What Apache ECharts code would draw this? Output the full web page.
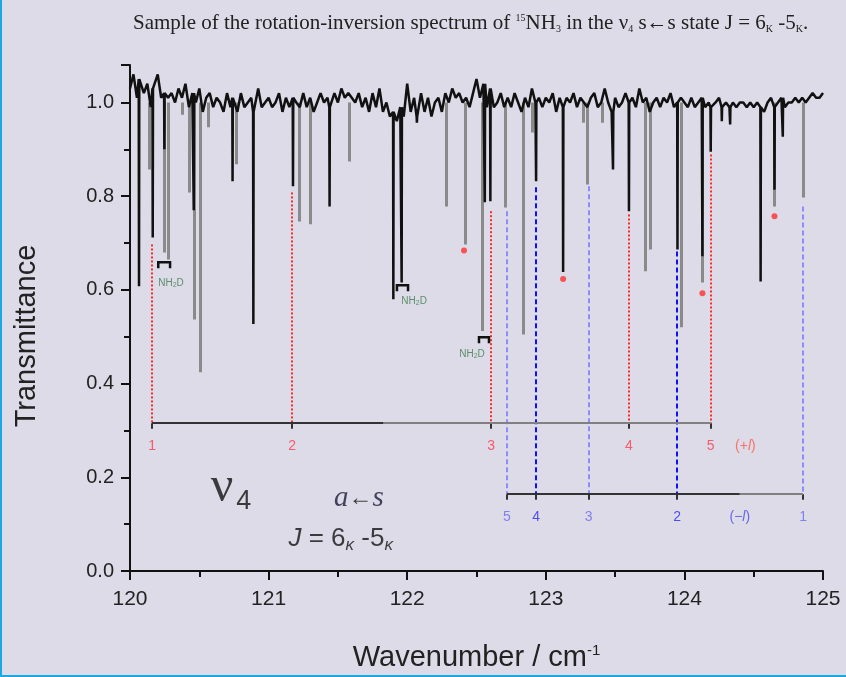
<!DOCTYPE html>
<html>
<head>
<meta charset="utf-8">
<script src="https://cdn.jsdelivr.net/npm/echarts@6/dist/echarts.min.js"></script>
<style>
html, body { margin: 0; padding: 0; background: #dddbe7; }
#main { width: 846px; height: 677px; }
</style>
</head>
<body>
<div id="main"></div>
<script>
var xMin = 120, xMax = 125, baseStep = 0.025;
// noisy baseline of the black trace, one value every 0.025 cm-1
var baseline = [
  1.03,1.06,1.01,1.05,1.02,1.04,0.99,1.03,1.06,1.01,1.02,1.01,1.02,1.00,1.03,1.01,1.04,0.99,1.02,1.00,
  1.03,0.98,1.01,1.02,0.99,1.01,1.00,0.98,1.02,0.99,1.01,0.98,1.02,0.99,1.00,1.01,0.98,1.03,0.99,1.00,
  1.01,0.99,1.00,1.02,0.98,1.01,0.99,1.01,1.00,0.99,1.02,0.99,1.01,0.98,1.00,1.02,1.00,1.01,0.99,1.02,
  1.00,1.03,1.01,1.02,1.01,1.00,1.02,0.99,1.01,0.98,1.02,0.99,1.03,0.98,1.00,0.97,0.98,0.96,0.99,0.97,
  1.04,0.98,1.01,0.97,1.02,0.98,1.01,0.97,1.00,1.01,0.98,1.02,1.00,1.03,1.01,1.02,1.00,1.01,0.99,1.02,
  1.05,1.01,1.04,0.99,1.03,0.99,1.00,1.02,0.99,1.01,0.99,1.02,1.00,0.98,1.01,0.99,1.03,1.00,1.01,0.99,
  1.01,1.00,1.02,0.98,1.01,0.99,1.01,1.00,1.02,0.99,1.01,1.00,0.99,1.01,1.02,0.99,1.00,1.03,1.00,0.98,
  1.01,0.99,1.00,1.02,1.00,1.01,0.99,1.03,1.00,1.01,0.98,1.00,1.01,0.99,1.01,1.00,1.02,0.99,1.00,1.01,
  1.00,0.99,1.01,0.99,1.00,1.01,0.99,1.00,0.99,1.00,1.01,0.99,1.00,0.99,1.00,0.99,1.00,1.00,0.99,1.00,
  0.99,1.00,0.99,0.98,1.00,1.01,0.99,1.00,1.01,0.99,1.00,1.00,1.01,1.00,1.01,1.00,1.01,1.02,1.01,1.01,
  1.02
];
// absorption lines [wavenumber, transmittance at the bottom]
var blackLines = [
  [120.065,0.608],[120.164,0.712],[120.248,0.90],[120.46,0.77],[120.74,0.832],[120.89,0.527],
  [121.176,0.821],[121.44,0.778],[121.90,0.58],[121.96,0.616],[122.07,0.957],[122.56,0.787],
  [122.60,0.789],[122.93,0.832],[123.125,0.638],[123.485,0.857],[123.60,0.768],[123.95,0.686],
  [124.13,0.672],[124.19,0.895],[124.27,0.96],[124.33,0.953],[124.55,0.618],[124.65,0.814],[124.71,0.927]
];
var greyLines = [
  [120.14,0.857],[120.248,0.68],[120.277,0.665],[120.375,0.974],[120.43,0.808],[120.46,0.537],
  [120.51,0.424],[120.565,0.947],[120.77,0.868],[121.22,0.746],[121.30,0.74],[121.58,0.874],
  [122.28,0.778],[122.42,0.697],[122.54,0.512],[122.71,0.776],[122.84,0.505],[122.9,0.936],
  [123.27,0.957],[123.30,0.825],[123.41,0.957],[123.72,0.64],[123.75,0.686],[123.975,0.52],
  [124.13,0.616],[124.65,0.778],[124.86,0.797]
];
// assignments: (+l) branch in red, (-l) branch in blue  [x, top of the guide line]
var plusX = [120.159, 121.169, 122.605, 123.60, 124.19];
var plusTop = [0.697, 0.808, 0.768, 0.761, 0.889];
var plusK = ['1', '2', '3', '4', '5'];
var minusX = [122.72, 122.93, 123.31, 123.947, 124.856];
var minusTop = [0.768, 0.819, 0.821, 0.682, 0.778];
var minusK = ['5', '4', '3', '2', '1'];
var minusDark = [false, true, false, true, false];
var plusBarY = 0.3156, minusBarY = 0.164;
var stars = [[122.41,0.684],[123.125,0.623],[124.13,0.593],[124.65,0.757]];
// NH2D brackets [x1, x2, y]
var brackets = [[120.204,120.289,0.659],[121.926,122.006,0.61],[122.518,122.59,0.499]];
var nh2dLabels = [[120.296,0.614],[122.05,0.576],[122.468,0.463]];

var chart = echarts.init(document.getElementById('main'));

var trace = [];
baseline.forEach(function (v, i) { trace.push([xMin + i * baseStep, v]); });
blackLines.forEach(function (d) {
  var b = baseline[Math.round((d[0] - xMin) / baseStep)];
  trace.push([d[0] - 0.002, b], [d[0], d[1]], [d[0] + 0.002, b]);
});
trace.sort(function (a, b) { return a[0] - b[0]; });

var greySegs = greyLines.map(function (d) { return { coords: [[d[0], 1.0], [d[0], d[1]]] }; });
var redSegs = plusX.map(function (x, i) { return { coords: [[x, plusTop[i]], [x, plusBarY]] }; });
var blueLight = [], blueDark = [];
minusX.forEach(function (x, i) {
  (minusDark[i] ? blueDark : blueLight).push({ coords: [[x, minusTop[i]], [x, minusBarY]] });
});
var tickSegs = [];
plusX.forEach(function (x) { tickSegs.push({ coords: [[x, plusBarY], [x, plusBarY - 0.012]] }); });
minusX.forEach(function (x) { tickSegs.push({ coords: [[x, minusBarY], [x, minusBarY - 0.012]] }); });
var barDark = [
  { coords: [[plusX[0], plusBarY], [121.83, plusBarY]] },
  { coords: [[minusX[0], minusBarY], [124.40, minusBarY]] }
];
var barGrey = [
  { coords: [[121.83, plusBarY], [plusX[4], plusBarY]] },
  { coords: [[124.40, minusBarY], [minusX[4], minusBarY]] }
];
var bracketSegs = brackets.map(function (b) {
  return { coords: [[b[0], b[2] - 0.013], [b[0], b[2]], [b[1], b[2]], [b[1], b[2] - 0.013]] };
});

var labels = [];
plusX.forEach(function (x, i) {
  labels.push({ name: plusK[i], value: [x, 0.2665], label: { color: '#ff3a4a', fontSize: 14 } });
});
labels.push({ name: '(+{it|l})', value: [124.44, 0.2665], label: { color: '#ff5a4a', fontSize: 14 } });
minusX.forEach(function (x, i) {
  labels.push({ name: minusK[i], value: [x, 0.115], label: { color: minusDark[i] ? '#2a2aee' : '#6a6af0', fontSize: 14 } });
});
labels.push({ name: '(\u2212{it|l})', value: [124.40, 0.115], label: { color: '#4a4af0', fontSize: 14 } });
nh2dLabels.forEach(function (p) {
  labels.push({ name: 'NH{s|2}D', value: p, label: { color: '#3b7a4e', fontSize: 10 } });
});
labels.push({ name: '\u03bd', value: [120.665, 0.177], label: { fontFamily: 'Liberation Serif', fontSize: 50, color: '#111' } });
labels.push({ name: '4', value: [120.82, 0.148], label: { fontFamily: 'Liberation Sans', fontSize: 27, color: '#111' } });
labels.push({ name: '{it|a}\u2190{it|s}', value: [121.652, 0.154], label: { fontFamily: 'Liberation Serif', fontSize: 24, color: '#111',
  rich: { it: { fontFamily: 'Liberation Serif', fontStyle: 'italic', fontSize: 29, color: '#1a1a3a' } } } });
labels.push({ name: '{ji|J} = 6{k|\u03ba} -5{k|\u03ba}', value: [121.52, 0.068], label: { fontFamily: 'Liberation Sans', fontSize: 26, color: '#111',
  rich: {
    ji: { fontFamily: 'Liberation Sans', fontStyle: 'italic', fontSize: 26, color: '#111', lineHeight: 30 },
    k: { fontFamily: 'Liberation Sans', fontStyle: 'italic', fontSize: 17, color: '#111', verticalAlign: 'bottom', lineHeight: 16 }
  } } });

var option = {
  backgroundColor: '#dddbe7',
  animation: false,
  title: {
    text: 'Sample of the rotation-inversion spectrum of {sp|15}NH{sb|3} in the \u03bd{sb|4} s\u2190s state J = 6{sb|K} -5{sb|K}.',
    left: 128,
    top: 8,
    textStyle: {
      fontFamily: 'Liberation Serif', fontSize: 21, fontWeight: 'normal', color: '#222',
      rich: {
        sp: { fontFamily: 'Liberation Serif', fontSize: 10, color: '#222', verticalAlign: 'top', lineHeight: 10 },
        sb: { fontFamily: 'Liberation Serif', fontSize: 10, color: '#222', verticalAlign: 'bottom', lineHeight: 10 }
      }
    }
  },
  grid: { left: 130, right: 23, top: 65, bottom: 105 },
  xAxis: {
    type: 'value', min: xMin, max: xMax, interval: 1,
    name: 'Wavenumber / cm{sup|-1}', nameLocation: 'middle', nameGap: 72,
    nameTextStyle: { fontFamily: 'Liberation Sans', fontSize: 29, color: '#222',
      rich: { sup: { fontFamily: 'Liberation Sans', fontSize: 15, color: '#222', verticalAlign: 'top', lineHeight: 15 } } },
    axisLine: { lineStyle: { color: '#111', width: 2 } },
    axisTick: { inside: false, length: 9, lineStyle: { color: '#111', width: 2 } },
    minorTick: { show: true, splitNumber: 2, length: 6, lineStyle: { color: '#111', width: 2 } },
    splitLine: { show: false },
    axisLabel: { fontFamily: 'Liberation Sans', fontSize: 21, color: '#222', margin: 18 }
  },
  yAxis: {
    type: 'value', min: 0, max: 1.08, interval: 0.2,
    name: 'Transmittance', nameLocation: 'middle', nameGap: 89,
    nameTextStyle: { fontFamily: 'Liberation Sans', fontSize: 29, color: '#222', padding: [0, 36, 0, 0] },
    axisLine: { show: true, lineStyle: { color: '#111', width: 2 } },
    axisTick: { show: true, length: 9, lineStyle: { color: '#111', width: 2 } },
    minorTick: { show: true, splitNumber: 2, length: 6, lineStyle: { color: '#111', width: 2 } },
    splitLine: { show: false },
    axisLabel: { fontFamily: 'Liberation Sans', fontSize: 20, color: '#222', margin: 16, showMaxLabel: false,
      formatter: function (v) { return v.toFixed(1); } }
  },
  series: [
    { type: 'lines', coordinateSystem: 'cartesian2d', data: greySegs, silent: true, z: 2,
      lineStyle: { color: '#8a8a8a', width: 3, opacity: 1 } },
    { type: 'line', data: trace, symbol: 'none', silent: true, z: 3,
      lineStyle: { color: '#111', width: 2.5 } },
    { type: 'lines', coordinateSystem: 'cartesian2d', data: redSegs, silent: true, z: 4,
      lineStyle: { color: '#ff2a2a', width: 2, type: 'dotted', opacity: 1 } },
    { type: 'lines', coordinateSystem: 'cartesian2d', data: blueLight, silent: true, z: 4,
      lineStyle: { color: '#8c8cff', width: 2, type: [5, 3], opacity: 1 } },
    { type: 'lines', coordinateSystem: 'cartesian2d', data: blueDark, silent: true, z: 4,
      lineStyle: { color: '#1010ff', width: 2, type: [5, 3], opacity: 1 } },
    { type: 'lines', coordinateSystem: 'cartesian2d', data: barDark.concat(tickSegs), silent: true, z: 5,
      lineStyle: { color: '#333', width: 2, opacity: 1 } },
    { type: 'lines', coordinateSystem: 'cartesian2d', data: barGrey, silent: true, z: 5,
      lineStyle: { color: '#808080', width: 2, opacity: 1 } },
    { type: 'lines', coordinateSystem: 'cartesian2d', polyline: true, data: bracketSegs, silent: true, z: 5,
      lineStyle: { color: '#111', width: 2.5, opacity: 1 } },
    { type: 'scatter', data: stars, symbol: 'circle', symbolSize: 6, silent: true, z: 6,
      itemStyle: { color: '#ff3030' } },
    { type: 'scatter', data: labels, symbolSize: 1, silent: true, z: 7,
      itemStyle: { color: 'rgba(0,0,0,0)' },
      label: { show: true, position: 'inside', formatter: '{b}', fontFamily: 'Liberation Sans',
        rich: {
          it: { fontStyle: 'italic', fontSize: 14, fontFamily: 'Liberation Sans' },
          s: { fontSize: 7, fontFamily: 'Liberation Sans', color: '#3b7a4e', verticalAlign: 'bottom', lineHeight: 7 }
        } } }
  ],
  graphic: [
    { type: 'rect', left: 0, top: 0, shape: { width: 2, height: 677 }, style: { fill: '#1aa8e4' }, silent: true },
    { type: 'rect', left: 0, bottom: 0, shape: { width: 846, height: 2 }, style: { fill: '#1aa8e4' }, silent: true }
  ]
};
chart.setOption(option);
</script>
</body>
</html>
